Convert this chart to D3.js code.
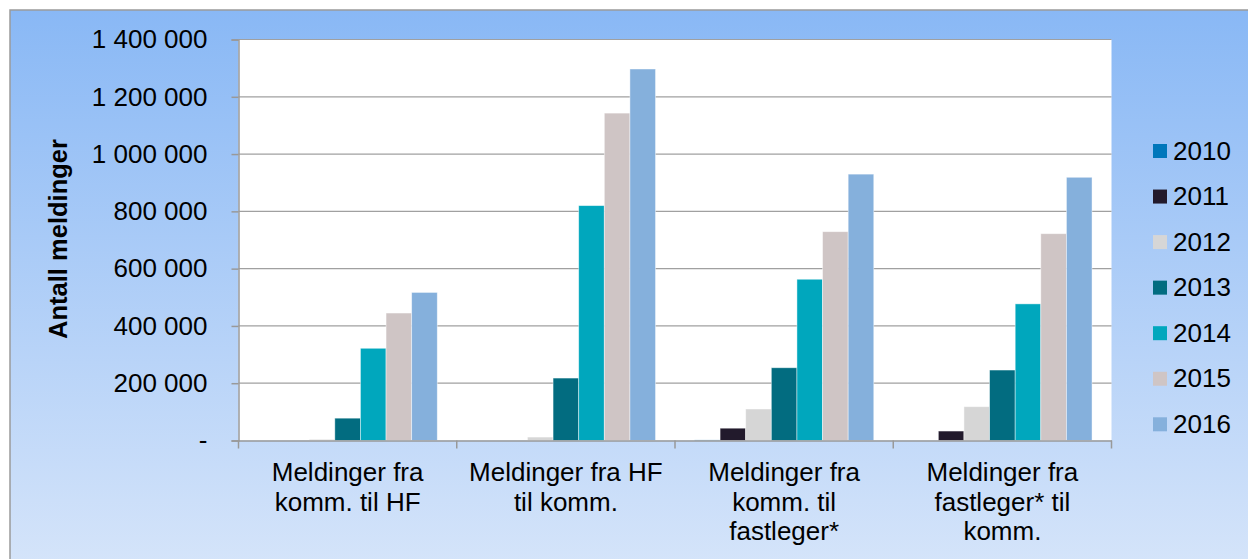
<!DOCTYPE html>
<html>
<head>
<meta charset="utf-8">
<script src="https://cdn.jsdelivr.net/npm/d3@7"></script>
<style>
  html, body { margin: 0; padding: 0; background: #ffffff; }
  svg { display: block; font-family: "Liberation Sans", Arial, sans-serif; }
</style>
</head>
<body>
<svg id="chart" width="1248" height="559"></svg>
<script>
// ---- data ----
const categories = ["Meldinger fra komm. til HF", "Meldinger fra HF til komm.", "Meldinger fra komm. til fastleger*", "Meldinger fra fastleger* til komm."];
const categoryLines = [
  ["Meldinger fra", "komm. til HF"],
  ["Meldinger fra HF", "til komm."],
  ["Meldinger fra", "komm. til", "fastleger*"],
  ["Meldinger fra", "fastleger* til", "komm."]
];
const years = ["2010", "2011", "2012", "2013", "2014", "2015", "2016"];
const s2010 = [0, 0, 2000, 0];
const s2011 = [0, 0, 43000, 33000];
const s2012 = [4000, 12000, 110000, 118000];
const s2013 = [78000, 218000, 254000, 246000];
const s2014 = [322000, 820000, 563000, 477000];
const s2015 = [445000, 1143000, 729000, 722000];
const s2016 = [517000, 1297000, 930000, 919000];
const yTicks = [0, 200000, 400000, 600000, 800000, 1000000, 1200000, 1400000];
const yTitle = "Antall meldinger";
const colors = ["#0077bb", "#221a2c", "#d6d6d6", "#026c80", "#00a7bd", "#cfc5c5", "#85b0dc"];

const seriesValues = [s2010, s2011, s2012, s2013, s2014, s2015, s2016];
const series = years.map((y, i) => ({ year: y, color: colors[i], values: seriesValues[i] }));

// ---- layout ----
const svg = d3.select("#chart");
const W = 1248, H = 559;
const plot = { left: 238.5, right: 1111.5, top: 39.5, bottom: 440.5 };

const defs = svg.append("defs");
const grad = defs.append("linearGradient").attr("id", "bg")
  .attr("x1", 0).attr("y1", 0).attr("x2", 0).attr("y2", 1);
grad.append("stop").attr("offset", "0%").attr("stop-color", "#89b8f5");
grad.append("stop").attr("offset", "100%").attr("stop-color", "#d8e6fa");

// frame
svg.append("rect").attr("x", 10).attr("y", 10).attr("width", W + 20).attr("height", H + 20)
  .attr("fill", "url(#bg)").attr("stroke", "#9a9a9a").attr("stroke-width", 1.5);

// plot area
svg.append("rect").attr("x", plot.left).attr("y", plot.top)
  .attr("width", plot.right - plot.left).attr("height", plot.bottom - plot.top)
  .attr("fill", "#ffffff");

const y = d3.scaleLinear().domain([0, 1400000]).range([plot.bottom, plot.top]);
const x0 = d3.scaleBand().domain(categories).range([plot.left, plot.right]).paddingInner(0).paddingOuter(0);
const x1 = d3.scaleBand().domain(years).range([0, x0.bandwidth()]).paddingInner(0).paddingOuter(0.76);

const loc = d3.formatLocale({ decimal: ",", thousands: " ", grouping: [3], currency: ["", ""] });
const fmt = v => v === 0 ? "-" : loc.format(",")(v);

// gridlines
svg.append("g").selectAll("line").data(yTicks.filter(d => d > 0)).join("line")
  .attr("x1", plot.left).attr("x2", plot.right)
  .attr("y1", d => y(d)).attr("y2", d => y(d))
  .attr("stroke", "#a0a0a0").attr("stroke-width", 1.2);

// bars
const gCat = svg.append("g").selectAll("g").data(categories).join("g")
  .attr("transform", d => `translate(${x0(d)},0)`);
gCat.selectAll("rect").data((c, ci) => series.map(s => ({ year: s.year, color: s.color, v: s.values[ci] })))
  .join("rect")
  .attr("x", d => x1(d.year))
  .attr("width", x1.bandwidth())
  .attr("y", d => y(d.v))
  .attr("height", d => y(0) - y(d.v))
  .attr("fill", d => d.color)
  .attr("stroke", d => d.v > 0 ? "rgba(255,255,255,0.55)" : "none")
  .attr("stroke-width", 0.8);

// y axis
const yAxis = d3.axisLeft(y).tickValues(yTicks).tickFormat(fmt).tickSize(7).tickPadding(24);
const gy = svg.append("g").attr("transform", `translate(${plot.left},0)`).call(yAxis);
gy.select(".domain").attr("stroke", "#999999").attr("stroke-width", 1.5);
gy.selectAll(".tick line").attr("stroke", "#999999").attr("stroke-width", 1.5);
gy.selectAll(".tick text").attr("font-size", 26).attr("fill", "#000")
  .attr("font-family", "'Liberation Sans', Arial, sans-serif");

// x axis
const xAxis = d3.axisBottom(x0).tickValues([]).tickSizeOuter(0);
const gx = svg.append("g").attr("transform", `translate(0,${plot.bottom})`).call(xAxis);
gx.select(".domain").attr("stroke", "#999999").attr("stroke-width", 1.5);
const boundaries = categories.map(c => x0(c)).concat([plot.right]);
gx.selectAll("line.sep").data(boundaries).join("line").attr("class", "sep")
  .attr("x1", d => d).attr("x2", d => d).attr("y1", 0).attr("y2", 8)
  .attr("stroke", "#999999").attr("stroke-width", 1.5);

// category labels
const lab = svg.append("g").selectAll("text").data(categories).join("text")
  .attr("text-anchor", "middle").attr("font-size", 26).attr("fill", "#000");
lab.each(function (c, i) {
  const t = d3.select(this);
  categoryLines[i].forEach((line, li) => {
    t.append("tspan").attr("x", x0(c) + x0.bandwidth() / 2).attr("y", 481 + li * 29.5).text(line);
  });
});

// y title
svg.append("text").attr("transform", "translate(67,239) rotate(-90)")
  .attr("text-anchor", "middle").attr("font-size", 25.5).attr("font-weight", "bold")
  .attr("fill", "#000").text(yTitle);

// legend
const leg = svg.append("g").selectAll("g").data(series).join("g")
  .attr("transform", (d, i) => `translate(1153,${151 + i * 45.55})`);
leg.append("rect").attr("x", 0).attr("y", -7).attr("width", 14).attr("height", 14).attr("fill", d => d.color);
leg.append("text").attr("x", 20).attr("y", 8.5).attr("font-size", 26).attr("fill", "#000").text(d => d.year);
</script>
</body>
</html>
